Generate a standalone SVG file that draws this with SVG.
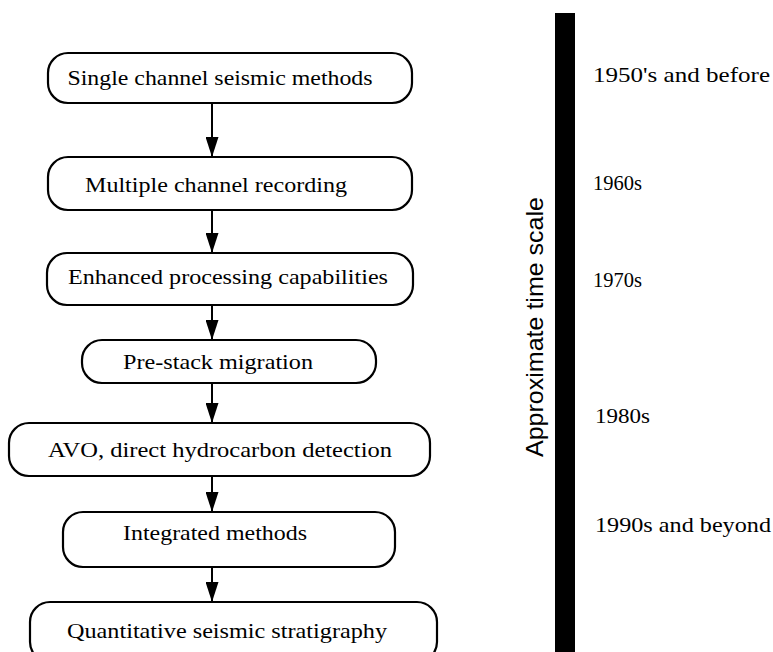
<svg xmlns="http://www.w3.org/2000/svg" width="773" height="652" viewBox="0 0 773 652">
  <defs>
    <style>
      .box { fill: #fff; stroke: #000; stroke-width: 2.2; }
      .lbl { font-family: "Liberation Serif", "Times New Roman", serif; font-size: 22px; fill: #000; text-anchor: middle; }
      .yr { font-family: "Liberation Serif", "Times New Roman", serif; font-size: 21px; fill: #000; }
      .axis { font-family: "Liberation Sans", Arial, sans-serif; font-size: 24px; fill: #000; text-anchor: middle; }
      .edge { stroke: #000; stroke-width: 2; fill: none; marker-end: url(#arrow); }
    </style>
    <!-- long, narrow solid arrowhead -->
    <marker id="arrow" viewBox="0 0 20 13" refX="20" refY="6.5" markerWidth="20" markerHeight="13" markerUnits="userSpaceOnUse" orient="auto">
      <path d="M0,0 L20,6.5 L0,13 Z" fill="#000"/>
    </marker>
  </defs>

  <rect width="773" height="652" fill="#fff"/>

  <!-- connectors -->
  <g id="connectors">
    <line class="edge" x1="212" y1="103" x2="212" y2="157"/>
    <line class="edge" x1="212" y1="210" x2="212" y2="253"/>
    <line class="edge" x1="212" y1="305" x2="212" y2="340"/>
    <line class="edge" x1="212" y1="383" x2="212" y2="423"/>
    <line class="edge" x1="212" y1="476" x2="212" y2="512"/>
    <line class="edge" x1="212" y1="567" x2="212" y2="602"/>
  </g>

  <!-- flow nodes -->
  <g id="n-single">
    <rect class="box" x="48" y="53" width="364" height="50" rx="20"/>
    <text class="lbl" x="220" y="85" textLength="305" lengthAdjust="spacingAndGlyphs">Single channel seismic methods</text>
  </g>
  <g id="n-multiple">
    <rect class="box" x="48" y="157" width="364" height="53" rx="20"/>
    <text class="lbl" x="216" y="192" textLength="262" lengthAdjust="spacingAndGlyphs">Multiple channel recording</text>
  </g>
  <g id="n-enhanced">
    <rect class="box" x="47" y="253" width="366" height="52" rx="20"/>
    <text class="lbl" x="228" y="284" textLength="320" lengthAdjust="spacingAndGlyphs">Enhanced processing capabilities</text>
  </g>
  <g id="n-prestack">
    <rect class="box" x="82" y="340" width="294" height="43" rx="20"/>
    <text class="lbl" x="218" y="369" textLength="190" lengthAdjust="spacingAndGlyphs">Pre-stack migration</text>
  </g>
  <g id="n-avo">
    <rect class="box" x="9" y="423" width="421" height="53" rx="20"/>
    <text class="lbl" x="220" y="457" textLength="344" lengthAdjust="spacingAndGlyphs">AVO, direct hydrocarbon detection</text>
  </g>
  <g id="n-integrated">
    <rect class="box" x="63" y="512" width="332" height="55" rx="20"/>
    <text class="lbl" x="215" y="540" textLength="184" lengthAdjust="spacingAndGlyphs">Integrated methods</text>
  </g>
  <g id="n-quantitative">
    <rect class="box" x="30" y="602" width="407" height="60" rx="20"/>
    <text class="lbl" x="227" y="638" textLength="320" lengthAdjust="spacingAndGlyphs">Quantitative seismic stratigraphy</text>
  </g>

  <!-- time scale -->
  <g id="timescale">
    <rect x="555" y="13" width="20" height="645" fill="#000"/>
    <text class="axis" transform="translate(543,327) rotate(-90)" x="0" y="0" textLength="260" lengthAdjust="spacingAndGlyphs">Approximate time scale</text>
    <text class="yr" x="593" y="82" textLength="177" lengthAdjust="spacingAndGlyphs">1950's and before</text>
    <text class="yr" x="593" y="190" textLength="49" lengthAdjust="spacingAndGlyphs">1960s</text>
    <text class="yr" x="593" y="287" textLength="49" lengthAdjust="spacingAndGlyphs">1970s</text>
    <text class="yr" x="595" y="423" textLength="55" lengthAdjust="spacingAndGlyphs">1980s</text>
    <text class="yr" x="595" y="532" textLength="176" lengthAdjust="spacingAndGlyphs">1990s and beyond</text>
  </g>
</svg>
